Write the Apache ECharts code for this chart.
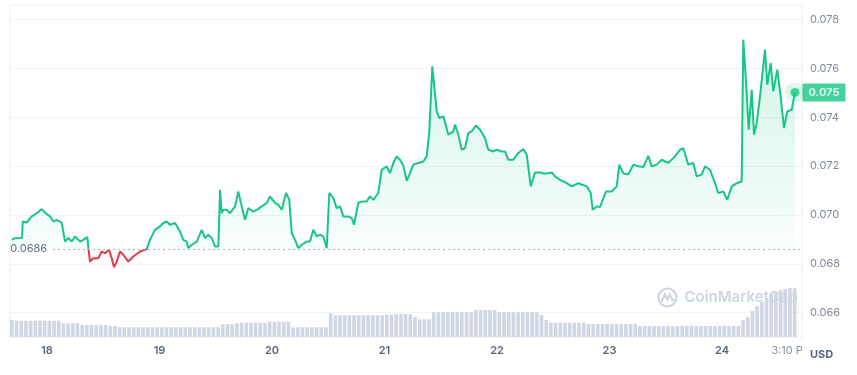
<!DOCTYPE html>
<html><head><meta charset="utf-8">
<script src="https://cdn.jsdelivr.net/npm/echarts@6/dist/echarts.min.js"></script>
<style>html,body{margin:0;padding:0;background:#fff}#c{width:857px;height:375px}</style>
</head><body><div id="c"></div>
<script>
// hours since Apr 18 00:00
const priceHours = [-7.53,-6.83,-5.33,-5.18,-4.33,-3.26,-2.20,-1.13,-0.43,0.64,1.34,2.07,3.14,3.84,4.54,5.27,5.97,7.04,7.74,8.60,8.81,9.17,9.88,10.94,11.67,12.37,13.23,13.80,14.29,14.87,15.57,16.28,17.34,18.41,19.84,21.27,21.97,23.04,24.11,
24.81,25.54,26.24,27.31,28.37,29.08,29.80,30.14,30.87,31.94,33.00,33.71,34.41,35.14,35.84,36.55,36.91,37.27,37.61,38.34,39.04,40.11,40.81,41.54,42.24,42.94,44.01,44.74,45.80,46.87,47.57,48.64,49.34,50.07,50.99,51.69,52.20,52.91,53.61,54.34,55.40,
56.11,56.81,57.54,58.24,58.94,59.67,60.22,61.08,61.80,62.51,63.21,64.28,65.00,65.49,66.41,67.14,68.20,68.91,69.61,70.68,71.40,72.47,73.17,73.88,74.60,75.31,76.01,76.74,77.44,78.14,79.21,80.28,81.00,81.56,82.20,83.14,83.69,84.55,85.61,86.68,87.04,87.74,88.47,89.17,89.88,90.60,91.52,92.37,93.44,94.14,95.21,95.94,97.00,97.71,98.41,99.48,100.55,101.61,102.34,103.19,104.11,105.17,106.24,107.67,108.37,109.44,110.87,111.94,113.34,115.14,115.99,116.42,117.27,117.97,119.25,120.47,121.54,122.09,122.94,124.01,125.08,126.14,127.21,128.28,129.00,130.07,131.14,132.54,133.97,135.04,135.74,136.81,137.88,138.60,139.67,140.37,141.44,142.51,143.21,144.28,145.13,146.07,147.14,148.20,148.54,149.06,149.70,150.34,150.83,151.40,152.11,153.17,153.66,154.39,154.94,155.80,156.52,157.23,157.93,158.87,159.57];
const prices = [0.06898,0.06905,0.06906,0.06973,0.06969,0.06994,0.07007,0.07024,0.07009,0.06994,0.06973,0.0698,0.06968,0.06891,0.06906,0.06891,0.06912,0.06891,0.06898,0.06909,0.06865,0.06809,0.06823,0.06823,0.0685,0.06843,0.06857,0.06823,0.06786,0.06809,0.0685,0.06837,0.06809,0.0683,0.0685,0.0686,0.06898,0.06939,0.06953,
0.06967,0.06973,0.0696,0.06967,0.06932,0.06898,0.06891,0.06864,0.06878,0.06891,0.06939,0.06905,0.06919,0.06905,0.06871,0.06871,0.07103,0.07007,0.07021,0.07021,0.07007,0.07035,0.07096,0.07035,0.0698,0.07028,0.07014,0.07021,0.07035,0.07049,0.07076,0.07049,0.07042,0.07021,0.0709,0.07062,0.06926,0.06898,0.06864,0.06878,0.06891,
0.06891,0.06939,0.06912,0.06919,0.06912,0.06864,0.0709,0.07069,0.07028,0.07035,0.06994,0.06994,0.06987,0.0696,0.07049,0.07055,0.07055,0.07076,0.07062,0.0709,0.07185,0.07199,0.07171,0.07213,0.0724,0.07226,0.07203,0.0714,0.07171,0.07206,0.07213,0.07219,0.0724,0.07342,0.07609,0.07424,0.07397,0.07404,0.07329,0.07342,0.0737,0.07329,0.07267,0.07274,0.07336,0.07342,0.07367,0.07349,0.07315,0.07267,0.0726,0.07267,0.0726,0.0726,0.07226,0.07226,0.07254,0.0727,0.07247,0.07117,0.07174,0.07174,0.07169,0.07174,0.07158,0.07144,0.0713,0.07117,0.0713,0.07117,0.0709,0.07021,0.07035,0.07032,0.07096,0.07096,0.07117,0.07206,0.07171,0.07165,0.07206,0.07199,0.07196,0.07242,0.07199,0.07206,0.07226,0.07213,0.0724,0.07267,0.07274,0.07206,0.07213,0.07158,0.07165,0.07199,0.07185,0.0713,0.0709,0.07096,0.07062,0.07117,0.0713,0.07137,0.07718,0.07568,0.07349,0.07513,0.07329,0.07377,0.07486,0.07677,0.07534,0.07622,0.07506,0.07595,0.07486,0.07356,0.07424,0.07431,0.07502];
// hourly volume (relative units), first bar at hour -7.5
const volumeValues = [17,16.3,16.3,16.3,16.3,16.3,16.3,16.3,16.3,16.3,16.3,
13.7,13.7,13.7,13.7,12,12,12,12,12,12,11,11,
9.7,9.7,9.7,9.7,9.7,9.7,9.7,9.7,9.7,9.7,9.7,9.7,9.7,9.7,9.7,9.7,9.7,9.7,9.7,9.7,9.7,9.7,
12.7,12.7,12.7,13.7,14.3,14.3,14.3,14.3,14.3,14.3,15.3,15.3,15.3,15.3,15.3,
9.7,9.7,9.7,9.7,9.7,9.7,9.7,9.7,23.7,
21.7,21.7,21.7,21.7,21.7,21.7,21.7,21.7,21.7,21.7,21.7,22.3,22.3,23,23,23,23,20.3,17.7,17.7,17.7,
24.7,24.7,24.7,24.7,24.7,24.7,24.7,24.7,24.7,27,27,27,27,27,
24.7,24.7,24.7,24.7,24.7,24.7,24.7,24.7,24.7,22,17,
14.3,14.3,14.3,14.3,14.3,14.3,14.3,14.3,
13,13,13,13,13,13,13,13,13,13,13,
11,11,11,11,11,11,11,11,11,11,11,11,11,11,11,11,11,11,11,11,11,11,
17,20,26,31,35,39,43,45,47,48,49,49];
const volStartHour = -7.5;
const baseline = 0.0686;
const yTicks = [0.066,0.068,0.070,0.072,0.074,0.076,0.078];
const dayTicks = [0,24,48,72,96,120,144];
const dayLabels = ['18','19','20','21','22','23','24'];
const endTickHour = 157.9;
const endTickLabel = '3:10 P';

const X_MIN = -7.9, X_MAX = 161.07;
const GREEN = '#16c784', RED = '#ea3943';
const priceData = priceHours.map((h,i)=>[h, prices[i]]);
const volData = volumeValues.map((v,i)=>[volStartHour + i, v]);
const last = priceData[priceData.length-1];
const FONT = 'Inter, "Noto Sans", sans-serif';

const chart = echarts.init(document.getElementById('c'));
chart.setOption({
  animation:false,
  grid:[
    {left:10,right:55,top:5,height:332,show:true,borderColor:'#eceef2',borderWidth:1},
    {left:10,right:55,top:280,height:57}
  ],
  xAxis:[
    {type:'value',gridIndex:0,min:X_MIN,max:X_MAX,show:false},
    {type:'value',gridIndex:1,min:X_MIN,max:X_MAX,axisLine:{show:false},axisTick:{show:false},splitLine:{show:false},
     axisLabel:{customValues:[...dayTicks,endTickHour],margin:8,color:'#58667e',fontSize:11,fontWeight:600,fontFamily:FONT,
       formatter:v=>{const k=dayTicks.indexOf(v);return k>=0?dayLabels[k]:'{e|'+endTickLabel+'}';},
       rich:{e:{color:'#8a93a6',fontSize:11,fontWeight:400,fontFamily:FONT}}}}
  ],
  yAxis:[
    {type:'value',gridIndex:0,position:'right',min:0.065,max:0.0786,
     axisLine:{show:false},axisTick:{show:false,customValues:yTicks},
     splitLine:{show:true,lineStyle:{color:'#f0f2f5'}},
     axisLabel:{customValues:yTicks,margin:8,color:'#808a9d',fontSize:11,fontFamily:FONT,formatter:v=>v.toFixed(3)}},
    {type:'value',gridIndex:1,min:0,max:57,show:false}
  ],
  graphic:[
    {type:'group',left:656,top:286,z:0,children:[
      {type:'circle',shape:{cx:10,cy:10,r:9},style:{fill:'none',stroke:'#cfd5e0',lineWidth:2.2}},
      {type:'polyline',shape:{points:[[4,14],[7.5,7],[10,12],[12.5,7],[15,13],[17,12]]},style:{fill:'none',stroke:'#cfd5e0',lineWidth:2.2}},
      {type:'text',x:27,y:10,style:{text:'CoinMarketCap',fill:'#cfd5e0',fontSize:15,fontWeight:600,fontFamily:FONT,verticalAlign:'middle'}}
    ]},
    {type:'text',left:810,top:349,style:{text:'USD',fill:'#58667e',fontSize:11,fontWeight:700,fontFamily:FONT}}
  ],
  series:[
    {type:'line',xAxisIndex:0,yAxisIndex:0,data:priceData,showSymbol:false,z:3,
     lineStyle:{width:2,color:GREEN},
     areaStyle:{origin:baseline,color:new echarts.graphic.LinearGradient(0,0,0,1,[
       {offset:0,color:'rgba(22,199,132,0.28)'},{offset:1,color:'rgba(22,199,132,0.02)'}])},
     markLine:{silent:true,symbol:'none',
       lineStyle:{color:'#a6b0c3',type:[2,3],width:1},
       label:{show:true,position:'start',distance:6,formatter:'0.0686',color:'#616e85',fontSize:11,fontFamily:FONT},
       data:[[{coord:[1.3,baseline]},{coord:[X_MAX,baseline]}]]}
    },
    {type:'scatter',xAxisIndex:0,yAxisIndex:0,data:[last],symbolSize:20,z:4,silent:true,
     itemStyle:{color:'rgba(22,199,132,0.18)'}},
    {type:'scatter',xAxisIndex:0,yAxisIndex:0,data:[last],symbolSize:9,z:5,silent:true,
     itemStyle:{color:GREEN},
     label:{show:true,position:'right',distance:3,formatter:p=>p.value[1].toFixed(3),
       backgroundColor:GREEN,color:'#fff',fontWeight:700,fontSize:11,fontFamily:FONT,padding:[3,6],lineHeight:12}},
    {type:'bar',xAxisIndex:1,yAxisIndex:1,data:volData,barWidth:3.6,z:2,
     itemStyle:{color:'#cfd6e4'}}
  ]
});
// colour the line red below the baseline, split at the baseline's pixel row
const py = chart.convertToPixel({yAxisIndex:0}, baseline);
chart.setOption({series:[{lineStyle:{color:new echarts.graphic.LinearGradient(0,py-0.5,0,py+0.5,[
  {offset:0,color:GREEN},{offset:0.5,color:GREEN},{offset:0.5,color:RED},{offset:1,color:RED}],true)}}]});
</script></body></html>
